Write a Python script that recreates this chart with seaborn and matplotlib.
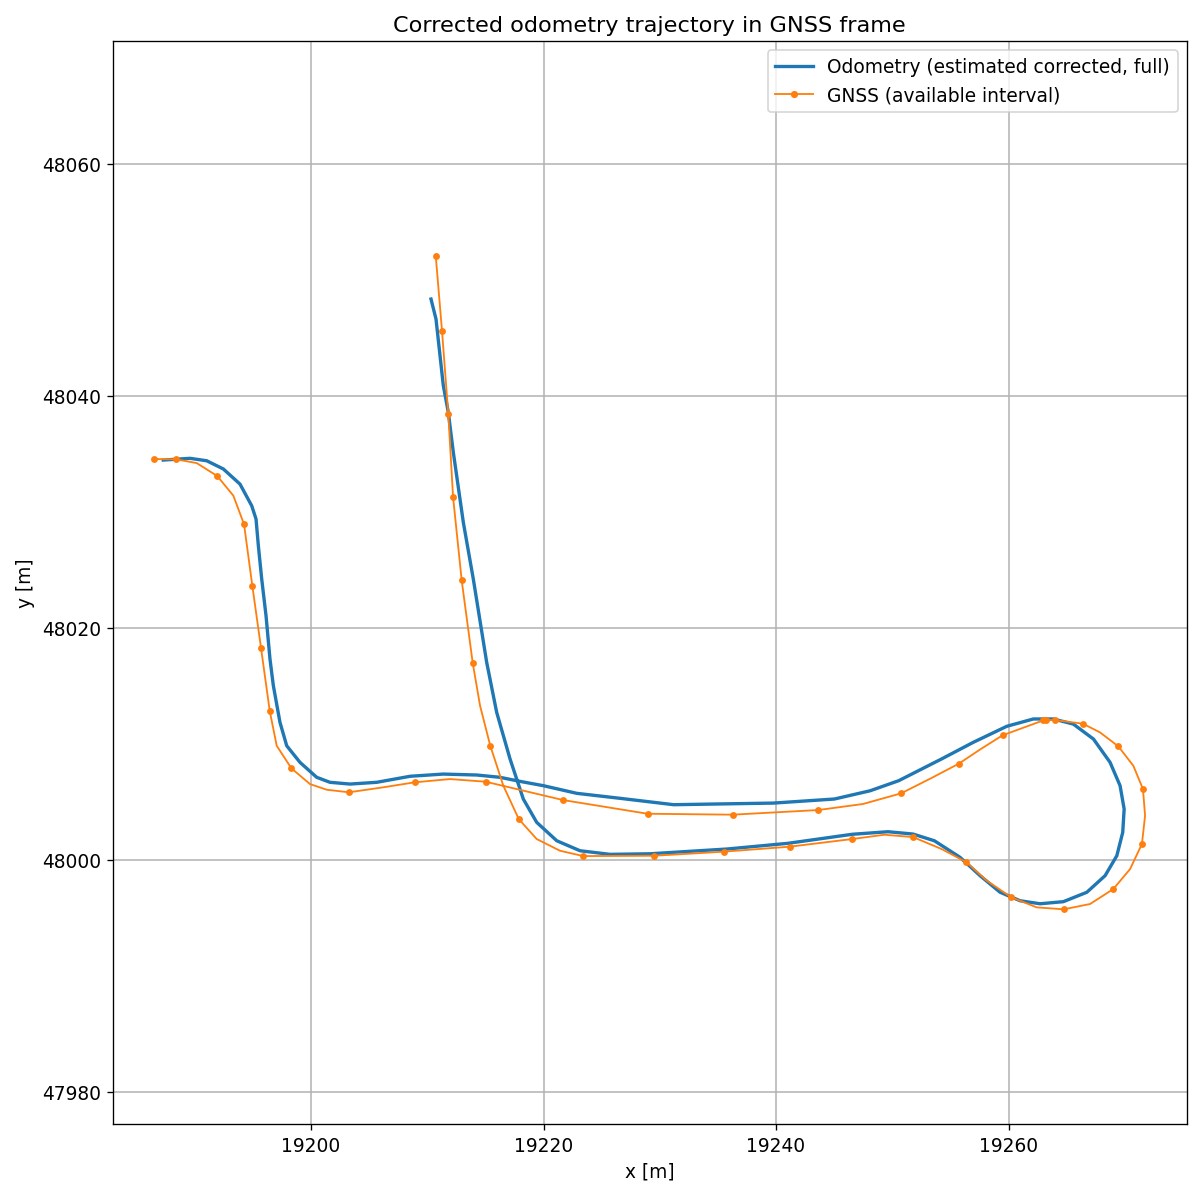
import matplotlib
matplotlib.use('Agg')
import matplotlib.pyplot as plt
from matplotlib.lines import Line2D
import pandas as pd
import seaborn as sns

plt.rcParams['font.size'] = 11.2

# odometry (estimated, corrected)
odo_x = [19210.32, 19210.75, 19211.38, 19211.81, 19212.24, 19213.10, 19213.96, 19215.11,
         19215.97, 19217.12, 19218.26, 19219.41, 19221.14, 19223.14, 19225.72, 19229.16,
         19235.79, 19241.02, 19246.55, 19249.63, 19251.78, 19253.62, 19255.83, 19257.55,
         19259.27, 19260.99, 19262.71, 19264.71, 19266.73, 19268.30, 19269.31, 19269.82,
         19269.94, 19269.59, 19268.73, 19267.30, 19265.57, 19263.85, 19262.13, 19259.85,
         19256.97, 19254.23, 19250.55, 19248.09, 19245.02, 19239.79, 19231.19, 19226.58,
         19222.86, 19219.98, 19217.98, 19216.26, 19214.25, 19211.38, 19208.52, 19205.65,
         19203.35, 19201.63, 19200.49, 19199.05, 19197.91, 19197.33, 19196.76, 19196.47,
         19196.13, 19195.76, 19195.47, 19195.27, 19194.90, 19193.89, 19192.46, 19191.03,
         19189.59, 19187.29]
odo_y = [48048.36, 48046.64, 48040.89, 48038.59, 48035.15, 48029.11, 48024.22, 48017.04,
         48012.73, 48008.71, 48005.26, 48003.25, 48001.66, 48000.80, 48000.49, 48000.54,
         48000.95, 48001.44, 48002.22, 48002.44, 48002.24, 48001.66, 48000.23, 47998.65,
         47997.22, 47996.49, 47996.23, 47996.41, 47997.22, 47998.65, 48000.37, 48002.39,
         48004.40, 48006.41, 48008.42, 48010.43, 48011.72, 48012.16, 48012.16, 48011.53,
         48010.15, 48008.71, 48006.84, 48005.97, 48005.26, 48004.91, 48004.77, 48005.32,
         48005.75, 48006.41, 48006.78, 48007.13, 48007.33, 48007.41, 48007.22, 48006.70,
         48006.55, 48006.70, 48007.13, 48008.42, 48009.85, 48011.87, 48015.03, 48017.33,
         48021.06, 48024.22, 48027.09, 48029.40, 48030.54, 48032.41, 48033.71, 48034.42,
         48034.63, 48034.48]

# GNSS track (line) and the GNSS fixes (markers)
gnss_line_x = [19210.73, 19211.27, 19211.81, 19212.22, 19212.96, 19213.91, 19214.54, 19215.42,
               19216.54, 19217.87, 19219.41, 19221.42, 19223.42, 19229.50, 19235.49, 19241.17,
               19246.55, 19249.32, 19251.78, 19254.23, 19256.35, 19258.12, 19260.25, 19262.42,
               19264.74, 19267.01, 19269.01, 19270.45, 19271.47, 19271.74, 19271.56, 19270.73,
               19269.44, 19267.87, 19266.40, 19264.00, 19263.23, 19262.99, 19259.48, 19257.61,
               19255.71, 19253.31, 19250.76, 19247.47, 19243.63, 19236.26, 19228.95, 19221.68,
               19215.03, 19211.96, 19208.92, 19206.22, 19203.27, 19201.35, 19199.91, 19198.31,
               19197.05, 19196.45, 19195.70, 19194.95, 19194.24, 19193.32, 19191.94, 19190.17,
               19188.41, 19186.49]
gnss_line_y = [48052.07, 48045.58, 48038.42, 48031.27, 48024.11, 48016.98, 48013.30, 48009.85,
               48006.41, 48003.53, 48001.81, 48000.80, 48000.34, 48000.37, 48000.72, 48001.15,
               48001.81, 48002.18, 48001.98, 48000.95, 47999.83, 47998.22, 47996.78, 47995.92,
               47995.75, 47996.21, 47997.50, 47999.22, 48001.38, 48003.82, 48006.12, 48008.13,
               48009.80, 48011.00, 48011.75, 48012.07, 48012.07, 48012.04, 48010.75, 48009.57,
               48008.30, 48007.04, 48005.75, 48004.83, 48004.31, 48003.91, 48003.99, 48005.17,
               48006.75, 48006.98, 48006.70, 48006.27, 48005.84, 48006.06, 48006.55, 48007.91,
               48009.85, 48012.84, 48018.28, 48023.65, 48028.94, 48031.41, 48033.10, 48034.22,
               48034.54, 48034.57]

gnss_fix_x = [19210.73, 19211.27, 19211.81, 19212.22, 19212.96, 19213.91, 19215.42, 19217.87,
              19223.42, 19229.50, 19235.49, 19241.17, 19246.55, 19251.78, 19256.35, 19260.25,
              19264.74, 19269.01, 19271.47, 19271.56, 19269.44, 19266.40, 19264.00, 19263.23,
              19262.99, 19259.48, 19255.71, 19250.76, 19243.63, 19236.26, 19228.95, 19221.68,
              19215.03, 19208.92, 19203.27, 19198.31, 19196.45, 19195.70, 19194.95, 19194.24,
              19191.94, 19188.41, 19186.49]
gnss_fix_y = [48052.07, 48045.58, 48038.42, 48031.27, 48024.11, 48016.98, 48009.85, 48003.53,
              48000.34, 48000.37, 48000.72, 48001.15, 48001.81, 48001.98, 47999.83, 47996.78,
              47995.75, 47997.50, 48001.38, 48006.12, 48009.80, 48011.75, 48012.07, 48012.07,
              48012.04, 48010.75, 48008.30, 48005.75, 48004.31, 48003.91, 48003.99, 48005.17,
              48006.75, 48006.70, 48005.84, 48007.91, 48012.84, 48018.28, 48023.65, 48028.94,
              48033.10, 48034.54, 48034.57]

odo = pd.DataFrame({'x': odo_x, 'y': odo_y})
gnss_line = pd.DataFrame({'x': gnss_line_x, 'y': gnss_line_y})
gnss_fix = pd.DataFrame({'x': gnss_fix_x, 'y': gnss_fix_y})

blue = '#1f77b4'
orange = '#ff7f0e'

fig = plt.figure(figsize=(10, 9.983), dpi=120)
ax = fig.add_axes([0.0938, 0.0609, 0.8954, 0.9043])

sns.lineplot(data=odo, x='x', y='y', sort=False, estimator=None, color=blue, linewidth=2, ax=ax)
sns.lineplot(data=gnss_line, x='x', y='y', sort=False, estimator=None, color=orange, linewidth=1.1, ax=ax)
sns.scatterplot(data=gnss_fix, x='x', y='y', color=orange, s=17, linewidth=0, ax=ax, zorder=3)

ax.set_xlim(19182.93, 19275.35)
ax.set_ylim(47977.24, 48070.63)
ax.set_xticks([19200, 19220, 19240, 19260])
ax.set_yticks([47980, 48000, 48020, 48040, 48060])
ax.grid(True, color='#b0b0b0', linewidth=0.9)
ax.set_axisbelow(True)

ax.set_title('Corrected odometry trajectory in GNSS frame')
ax.set_xlabel('x [m]')
ax.set_ylabel('y [m]')

handles = [Line2D([], [], color=blue, linewidth=2),
           Line2D([], [], color=orange, linewidth=1.1, marker='o', markersize=3.3)]
ax.legend(handles, ['Odometry (estimated corrected, full)', 'GNSS (available interval)'],
          loc='upper right')

fig.savefig('out.png', dpi=120)
